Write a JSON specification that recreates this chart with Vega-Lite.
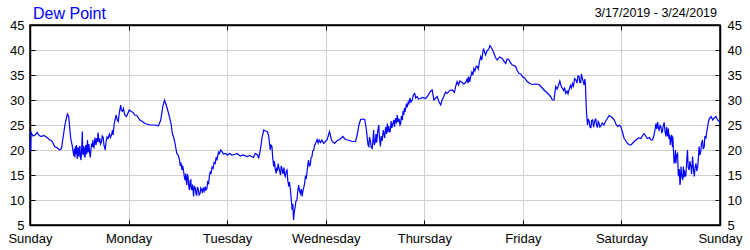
{
  "$schema": "https://vega.github.io/schema/vega-lite/v6.json",
  "width": 690,
  "height": 200,
  "autosize": {"type": "none"},
  "padding": {"left": 30, "top": 25, "right": 30, "bottom": 25},
  "background": "white",
  "title": {"text": "Dew Point", "anchor": "start", "frame": "group", "fontSize": 16, "font": "Liberation Sans", "fontWeight": "normal", "color": "#0000ff", "dx": 3, "offset": -28, "baseline": "alphabetic"},
  "data": {"values": [
    {"time": "2019-03-17T00:00", "dew": 22.0}, {"time": "2019-03-17T00:10", "dew": 19.8}, {"time": "2019-03-17T00:15", "dew": 23.5},
    {"time": "2019-03-17T00:45", "dew": 22.8}, {"time": "2019-03-17T01:15", "dew": 23.0}, {"time": "2019-03-17T01:45", "dew": 23.5},
    {"time": "2019-03-17T02:15", "dew": 22.9}, {"time": "2019-03-17T02:45", "dew": 22.7}, {"time": "2019-03-17T03:20", "dew": 22.9},
    {"time": "2019-03-17T04:00", "dew": 22.6}, {"time": "2019-03-17T04:50", "dew": 22.0}, {"time": "2019-03-17T05:20", "dew": 21.8},
    {"time": "2019-03-17T06:00", "dew": 20.7}, {"time": "2019-03-17T06:40", "dew": 20.4}, {"time": "2019-03-17T07:15", "dew": 20.0},
    {"time": "2019-03-17T07:40", "dew": 20.3}, {"time": "2019-03-17T08:30", "dew": 25.0}, {"time": "2019-03-17T09:05", "dew": 27.2},
    {"time": "2019-03-17T09:25", "dew": 26.7}, {"time": "2019-03-17T09:55", "dew": 22.3}, {"time": "2019-03-17T10:15", "dew": 21.0},
    {"time": "2019-03-17T10:30", "dew": 19.7}, {"time": "2019-03-17T10:40", "dew": 18.8}, {"time": "2019-03-17T10:50", "dew": 20.3},
    {"time": "2019-03-17T10:55", "dew": 18.5}, {"time": "2019-03-17T11:05", "dew": 20.8}, {"time": "2019-03-17T11:15", "dew": 19.2},
    {"time": "2019-03-17T11:20", "dew": 21.0}, {"time": "2019-03-17T11:30", "dew": 18.2}, {"time": "2019-03-17T11:35", "dew": 19.8},
    {"time": "2019-03-17T11:40", "dew": 20.5}, {"time": "2019-03-17T11:50", "dew": 18.7}, {"time": "2019-03-17T11:55", "dew": 19.0},
    {"time": "2019-03-17T12:00", "dew": 20.5}, {"time": "2019-03-17T12:10", "dew": 20.8}, {"time": "2019-03-17T12:15", "dew": 18.6},
    {"time": "2019-03-17T12:25", "dew": 18.0}, {"time": "2019-03-17T12:35", "dew": 20.2}, {"time": "2019-03-17T12:45", "dew": 23.7},
    {"time": "2019-03-17T12:50", "dew": 19.5}, {"time": "2019-03-17T12:55", "dew": 19.0}, {"time": "2019-03-17T13:00", "dew": 20.8},
    {"time": "2019-03-17T13:10", "dew": 20.5}, {"time": "2019-03-17T13:15", "dew": 18.9}, {"time": "2019-03-17T13:25", "dew": 18.5},
    {"time": "2019-03-17T13:30", "dew": 20.6}, {"time": "2019-03-17T13:40", "dew": 21.0}, {"time": "2019-03-17T13:45", "dew": 19.2},
    {"time": "2019-03-17T13:50", "dew": 19.5}, {"time": "2019-03-17T14:00", "dew": 22.0}, {"time": "2019-03-17T14:05", "dew": 20.1},
    {"time": "2019-03-17T14:10", "dew": 19.5}, {"time": "2019-03-17T14:20", "dew": 21.2}, {"time": "2019-03-17T14:25", "dew": 20.5},
    {"time": "2019-03-17T14:35", "dew": 19.0}, {"time": "2019-03-17T14:40", "dew": 18.5}, {"time": "2019-03-17T14:50", "dew": 20.0},
    {"time": "2019-03-17T15:00", "dew": 21.3}, {"time": "2019-03-17T15:10", "dew": 20.6}, {"time": "2019-03-17T15:20", "dew": 22.0},
    {"time": "2019-03-17T15:25", "dew": 20.8}, {"time": "2019-03-17T15:35", "dew": 20.5}, {"time": "2019-03-17T15:45", "dew": 21.8},
    {"time": "2019-03-17T15:50", "dew": 22.5}, {"time": "2019-03-17T16:00", "dew": 21.3}, {"time": "2019-03-17T16:05", "dew": 21.0},
    {"time": "2019-03-17T16:15", "dew": 22.4}, {"time": "2019-03-17T16:25", "dew": 21.6}, {"time": "2019-03-17T16:35", "dew": 23.5},
    {"time": "2019-03-17T16:45", "dew": 22.0}, {"time": "2019-03-17T16:50", "dew": 21.5}, {"time": "2019-03-17T17:00", "dew": 22.3},
    {"time": "2019-03-17T17:10", "dew": 21.2}, {"time": "2019-03-17T17:25", "dew": 21.7}, {"time": "2019-03-17T17:35", "dew": 22.8},
    {"time": "2019-03-17T17:50", "dew": 22.5}, {"time": "2019-03-17T18:00", "dew": 21.0}, {"time": "2019-03-17T18:10", "dew": 20.5},
    {"time": "2019-03-17T18:20", "dew": 20.0}, {"time": "2019-03-17T18:30", "dew": 21.5}, {"time": "2019-03-17T18:45", "dew": 22.6},
    {"time": "2019-03-17T19:00", "dew": 22.3}, {"time": "2019-03-17T19:20", "dew": 23.2}, {"time": "2019-03-17T19:35", "dew": 22.5},
    {"time": "2019-03-17T19:50", "dew": 23.0}, {"time": "2019-03-17T20:05", "dew": 24.0}, {"time": "2019-03-17T20:15", "dew": 23.0},
    {"time": "2019-03-17T20:30", "dew": 25.3}, {"time": "2019-03-17T21:00", "dew": 27.0}, {"time": "2019-03-17T21:15", "dew": 26.0},
    {"time": "2019-03-17T21:30", "dew": 25.7}, {"time": "2019-03-17T21:45", "dew": 27.5}, {"time": "2019-03-17T22:05", "dew": 29.0},
    {"time": "2019-03-17T22:15", "dew": 27.9}, {"time": "2019-03-17T22:30", "dew": 27.7}, {"time": "2019-03-17T22:45", "dew": 28.3},
    {"time": "2019-03-17T23:05", "dew": 27.0}, {"time": "2019-03-17T23:30", "dew": 26.7},
    {"time": "2019-03-18T00:10", "dew": 28.0}, {"time": "2019-03-18T00:40", "dew": 27.7}, {"time": "2019-03-18T01:05", "dew": 27.5},
    {"time": "2019-03-18T01:30", "dew": 27.0}, {"time": "2019-03-18T02:00", "dew": 26.9}, {"time": "2019-03-18T02:45", "dew": 26.0},
    {"time": "2019-03-18T03:20", "dew": 25.7}, {"time": "2019-03-18T04:00", "dew": 25.3}, {"time": "2019-03-18T05:15", "dew": 25.0},
    {"time": "2019-03-18T06:30", "dew": 25.0}, {"time": "2019-03-18T07:15", "dew": 24.8}, {"time": "2019-03-18T07:50", "dew": 26.0},
    {"time": "2019-03-18T08:20", "dew": 28.7}, {"time": "2019-03-18T08:45", "dew": 30.0}, {"time": "2019-03-18T09:10", "dew": 29.0},
    {"time": "2019-03-18T09:45", "dew": 27.3}, {"time": "2019-03-18T10:20", "dew": 25.3}, {"time": "2019-03-18T10:40", "dew": 23.3},
    {"time": "2019-03-18T11:00", "dew": 22.5}, {"time": "2019-03-18T11:20", "dew": 21.3}, {"time": "2019-03-18T11:30", "dew": 20.4},
    {"time": "2019-03-18T11:45", "dew": 19.3}, {"time": "2019-03-18T12:05", "dew": 19.0}, {"time": "2019-03-18T12:25", "dew": 18.0},
    {"time": "2019-03-18T12:35", "dew": 16.8}, {"time": "2019-03-18T12:45", "dew": 17.5}, {"time": "2019-03-18T13:00", "dew": 16.0},
    {"time": "2019-03-18T13:10", "dew": 16.9}, {"time": "2019-03-18T13:25", "dew": 15.7}, {"time": "2019-03-18T13:35", "dew": 14.6},
    {"time": "2019-03-18T13:45", "dew": 14.0}, {"time": "2019-03-18T13:55", "dew": 15.3}, {"time": "2019-03-18T14:05", "dew": 13.4},
    {"time": "2019-03-18T14:10", "dew": 13.0}, {"time": "2019-03-18T14:20", "dew": 15.2}, {"time": "2019-03-18T14:30", "dew": 14.5},
    {"time": "2019-03-18T14:40", "dew": 12.6}, {"time": "2019-03-18T14:50", "dew": 12.0}, {"time": "2019-03-18T15:00", "dew": 13.8},
    {"time": "2019-03-18T15:10", "dew": 14.0}, {"time": "2019-03-18T15:15", "dew": 12.4}, {"time": "2019-03-18T15:25", "dew": 12.0},
    {"time": "2019-03-18T15:35", "dew": 13.1}, {"time": "2019-03-18T15:50", "dew": 10.7}, {"time": "2019-03-18T16:00", "dew": 12.8},
    {"time": "2019-03-18T16:15", "dew": 12.3}, {"time": "2019-03-18T16:25", "dew": 11.2}, {"time": "2019-03-18T16:35", "dew": 11.0},
    {"time": "2019-03-18T16:45", "dew": 12.6}, {"time": "2019-03-18T17:00", "dew": 12.0}, {"time": "2019-03-18T17:10", "dew": 11.0},
    {"time": "2019-03-18T17:25", "dew": 11.3}, {"time": "2019-03-18T17:35", "dew": 12.4}, {"time": "2019-03-18T17:50", "dew": 12.0},
    {"time": "2019-03-18T18:00", "dew": 11.4}, {"time": "2019-03-18T18:10", "dew": 12.5}, {"time": "2019-03-18T18:25", "dew": 11.8},
    {"time": "2019-03-18T18:40", "dew": 12.7}, {"time": "2019-03-18T18:50", "dew": 12.0}, {"time": "2019-03-18T19:05", "dew": 12.3},
    {"time": "2019-03-18T19:15", "dew": 13.6}, {"time": "2019-03-18T19:30", "dew": 13.3}, {"time": "2019-03-18T19:40", "dew": 14.8},
    {"time": "2019-03-18T19:55", "dew": 15.7}, {"time": "2019-03-18T20:05", "dew": 15.2}, {"time": "2019-03-18T20:20", "dew": 16.6},
    {"time": "2019-03-18T20:35", "dew": 16.3}, {"time": "2019-03-18T20:50", "dew": 17.5}, {"time": "2019-03-18T21:05", "dew": 17.3},
    {"time": "2019-03-18T21:20", "dew": 18.6}, {"time": "2019-03-18T21:30", "dew": 17.9}, {"time": "2019-03-18T21:40", "dew": 18.7},
    {"time": "2019-03-18T21:55", "dew": 19.6}, {"time": "2019-03-18T22:10", "dew": 19.3}, {"time": "2019-03-18T22:25", "dew": 20.0},
    {"time": "2019-03-18T22:45", "dew": 19.7}, {"time": "2019-03-18T23:05", "dew": 19.2}, {"time": "2019-03-18T23:35", "dew": 19.3},
    {"time": "2019-03-19T00:05", "dew": 19.0}, {"time": "2019-03-19T00:40", "dew": 19.3}, {"time": "2019-03-19T01:10", "dew": 19.0},
    {"time": "2019-03-19T01:50", "dew": 19.1}, {"time": "2019-03-19T02:25", "dew": 19.3}, {"time": "2019-03-19T03:10", "dew": 18.8},
    {"time": "2019-03-19T03:50", "dew": 19.0}, {"time": "2019-03-19T04:50", "dew": 18.7}, {"time": "2019-03-19T05:30", "dew": 18.9},
    {"time": "2019-03-19T06:25", "dew": 18.5}, {"time": "2019-03-19T06:50", "dew": 19.3}, {"time": "2019-03-19T07:25", "dew": 19.0},
    {"time": "2019-03-19T07:40", "dew": 18.3}, {"time": "2019-03-19T08:05", "dew": 20.0}, {"time": "2019-03-19T08:30", "dew": 22.5},
    {"time": "2019-03-19T08:55", "dew": 24.0}, {"time": "2019-03-19T09:20", "dew": 23.8}, {"time": "2019-03-19T09:45", "dew": 23.7},
    {"time": "2019-03-19T10:05", "dew": 23.0}, {"time": "2019-03-19T10:20", "dew": 21.2}, {"time": "2019-03-19T10:30", "dew": 20.0},
    {"time": "2019-03-19T10:40", "dew": 21.0}, {"time": "2019-03-19T10:55", "dew": 20.7}, {"time": "2019-03-19T11:05", "dew": 18.5},
    {"time": "2019-03-19T11:20", "dew": 16.7}, {"time": "2019-03-19T11:30", "dew": 17.8}, {"time": "2019-03-19T11:45", "dew": 16.0},
    {"time": "2019-03-19T11:55", "dew": 15.3}, {"time": "2019-03-19T12:05", "dew": 16.5}, {"time": "2019-03-19T12:15", "dew": 15.8},
    {"time": "2019-03-19T12:25", "dew": 17.3}, {"time": "2019-03-19T12:40", "dew": 16.2}, {"time": "2019-03-19T13:00", "dew": 15.0},
    {"time": "2019-03-19T13:10", "dew": 16.8}, {"time": "2019-03-19T13:20", "dew": 16.3}, {"time": "2019-03-19T13:35", "dew": 15.2},
    {"time": "2019-03-19T13:50", "dew": 16.5}, {"time": "2019-03-19T14:00", "dew": 15.0}, {"time": "2019-03-19T14:10", "dew": 14.7},
    {"time": "2019-03-19T14:25", "dew": 15.8}, {"time": "2019-03-19T14:35", "dew": 16.0}, {"time": "2019-03-19T14:45", "dew": 14.0},
    {"time": "2019-03-19T15:00", "dew": 12.7}, {"time": "2019-03-19T15:10", "dew": 13.6}, {"time": "2019-03-19T15:25", "dew": 12.0},
    {"time": "2019-03-19T15:35", "dew": 10.3}, {"time": "2019-03-19T15:50", "dew": 8.0}, {"time": "2019-03-19T16:00", "dew": 9.2},
    {"time": "2019-03-19T16:10", "dew": 6.0}, {"time": "2019-03-19T16:20", "dew": 7.5}, {"time": "2019-03-19T16:35", "dew": 8.7},
    {"time": "2019-03-19T16:45", "dew": 9.8}, {"time": "2019-03-19T17:00", "dew": 10.0}, {"time": "2019-03-19T17:10", "dew": 11.6},
    {"time": "2019-03-19T17:25", "dew": 13.0}, {"time": "2019-03-19T17:35", "dew": 12.0}, {"time": "2019-03-19T17:50", "dew": 11.3},
    {"time": "2019-03-19T18:05", "dew": 12.2}, {"time": "2019-03-19T18:15", "dew": 10.7}, {"time": "2019-03-19T18:30", "dew": 12.0},
    {"time": "2019-03-19T18:45", "dew": 12.8}, {"time": "2019-03-19T18:55", "dew": 13.7}, {"time": "2019-03-19T19:05", "dew": 14.9},
    {"time": "2019-03-19T19:15", "dew": 14.2}, {"time": "2019-03-19T19:30", "dew": 16.0}, {"time": "2019-03-19T19:40", "dew": 17.2},
    {"time": "2019-03-19T19:50", "dew": 18.0}, {"time": "2019-03-19T20:00", "dew": 16.8}, {"time": "2019-03-19T20:15", "dew": 17.0},
    {"time": "2019-03-19T20:25", "dew": 18.4}, {"time": "2019-03-19T20:40", "dew": 18.7}, {"time": "2019-03-19T20:50", "dew": 19.8},
    {"time": "2019-03-19T21:05", "dew": 20.0}, {"time": "2019-03-19T21:15", "dew": 20.8}, {"time": "2019-03-19T21:30", "dew": 21.3},
    {"time": "2019-03-19T21:55", "dew": 22.1}, {"time": "2019-03-19T22:10", "dew": 21.4}, {"time": "2019-03-19T22:25", "dew": 22.0},
    {"time": "2019-03-19T22:45", "dew": 21.5}, {"time": "2019-03-19T23:05", "dew": 22.0}, {"time": "2019-03-19T23:30", "dew": 21.3},
    {"time": "2019-03-20T00:00", "dew": 21.8}, {"time": "2019-03-20T00:20", "dew": 22.0}, {"time": "2019-03-20T00:55", "dew": 23.7},
    {"time": "2019-03-20T01:25", "dew": 22.0}, {"time": "2019-03-20T01:45", "dew": 21.6}, {"time": "2019-03-20T02:10", "dew": 21.3},
    {"time": "2019-03-20T02:40", "dew": 21.8}, {"time": "2019-03-20T03:10", "dew": 22.0}, {"time": "2019-03-20T03:40", "dew": 22.3},
    {"time": "2019-03-20T04:10", "dew": 22.7}, {"time": "2019-03-20T04:40", "dew": 22.2}, {"time": "2019-03-20T05:15", "dew": 22.0},
    {"time": "2019-03-20T05:50", "dew": 21.9}, {"time": "2019-03-20T06:25", "dew": 21.7}, {"time": "2019-03-20T07:15", "dew": 21.7},
    {"time": "2019-03-20T07:40", "dew": 23.0}, {"time": "2019-03-20T08:05", "dew": 25.0}, {"time": "2019-03-20T08:30", "dew": 26.1},
    {"time": "2019-03-20T09:00", "dew": 26.2}, {"time": "2019-03-20T09:30", "dew": 26.1}, {"time": "2019-03-20T09:55", "dew": 24.0},
    {"time": "2019-03-20T10:10", "dew": 22.0}, {"time": "2019-03-20T10:20", "dew": 20.9}, {"time": "2019-03-20T10:30", "dew": 20.7},
    {"time": "2019-03-20T10:40", "dew": 22.6}, {"time": "2019-03-20T10:55", "dew": 21.7}, {"time": "2019-03-20T11:05", "dew": 20.5},
    {"time": "2019-03-20T11:20", "dew": 20.3}, {"time": "2019-03-20T11:30", "dew": 22.0}, {"time": "2019-03-20T11:40", "dew": 24.0},
    {"time": "2019-03-20T11:50", "dew": 21.0}, {"time": "2019-03-20T12:05", "dew": 21.7}, {"time": "2019-03-20T12:15", "dew": 23.2},
    {"time": "2019-03-20T12:25", "dew": 21.5}, {"time": "2019-03-20T12:40", "dew": 23.8}, {"time": "2019-03-20T12:55", "dew": 25.0},
    {"time": "2019-03-20T13:05", "dew": 22.5}, {"time": "2019-03-20T13:20", "dew": 20.7}, {"time": "2019-03-20T13:30", "dew": 22.8},
    {"time": "2019-03-20T13:45", "dew": 21.8}, {"time": "2019-03-20T14:00", "dew": 24.0}, {"time": "2019-03-20T14:10", "dew": 23.3},
    {"time": "2019-03-20T14:20", "dew": 22.4}, {"time": "2019-03-20T14:35", "dew": 24.6}, {"time": "2019-03-20T14:50", "dew": 23.2},
    {"time": "2019-03-20T15:00", "dew": 25.3}, {"time": "2019-03-20T15:10", "dew": 23.6}, {"time": "2019-03-20T15:20", "dew": 24.8},
    {"time": "2019-03-20T15:35", "dew": 23.5}, {"time": "2019-03-20T15:45", "dew": 24.0}, {"time": "2019-03-20T15:55", "dew": 25.8},
    {"time": "2019-03-20T16:05", "dew": 24.4}, {"time": "2019-03-20T16:20", "dew": 25.2}, {"time": "2019-03-20T16:35", "dew": 26.0},
    {"time": "2019-03-20T16:45", "dew": 24.6}, {"time": "2019-03-20T17:00", "dew": 26.4}, {"time": "2019-03-20T17:15", "dew": 25.3},
    {"time": "2019-03-20T17:25", "dew": 27.0}, {"time": "2019-03-20T17:35", "dew": 25.6}, {"time": "2019-03-20T17:50", "dew": 26.3},
    {"time": "2019-03-20T18:05", "dew": 25.0}, {"time": "2019-03-20T18:15", "dew": 25.3}, {"time": "2019-03-20T18:25", "dew": 26.8},
    {"time": "2019-03-20T18:40", "dew": 26.0}, {"time": "2019-03-20T18:50", "dew": 27.8}, {"time": "2019-03-20T19:00", "dew": 27.0},
    {"time": "2019-03-20T19:10", "dew": 28.4}, {"time": "2019-03-20T19:20", "dew": 27.6}, {"time": "2019-03-20T19:40", "dew": 29.3},
    {"time": "2019-03-20T19:50", "dew": 28.5}, {"time": "2019-03-20T20:05", "dew": 29.6}, {"time": "2019-03-20T20:15", "dew": 29.3},
    {"time": "2019-03-20T20:30", "dew": 30.4}, {"time": "2019-03-20T20:45", "dew": 29.6}, {"time": "2019-03-20T21:05", "dew": 30.0},
    {"time": "2019-03-20T21:20", "dew": 31.0}, {"time": "2019-03-20T21:40", "dew": 31.3}, {"time": "2019-03-20T21:55", "dew": 30.4},
    {"time": "2019-03-20T22:15", "dew": 30.7}, {"time": "2019-03-20T22:35", "dew": 30.2}, {"time": "2019-03-20T23:05", "dew": 30.3},
    {"time": "2019-03-20T23:30", "dew": 30.5},
    {"time": "2019-03-21T00:20", "dew": 30.3}, {"time": "2019-03-21T00:50", "dew": 30.8}, {"time": "2019-03-21T01:30", "dew": 31.7},
    {"time": "2019-03-21T01:55", "dew": 32.0}, {"time": "2019-03-21T02:20", "dew": 30.0}, {"time": "2019-03-21T02:45", "dew": 30.4},
    {"time": "2019-03-21T03:10", "dew": 30.7}, {"time": "2019-03-21T03:35", "dew": 29.6}, {"time": "2019-03-21T04:00", "dew": 29.0},
    {"time": "2019-03-21T04:20", "dew": 30.0}, {"time": "2019-03-21T04:45", "dew": 30.7}, {"time": "2019-03-21T05:10", "dew": 31.6},
    {"time": "2019-03-21T05:35", "dew": 31.3}, {"time": "2019-03-21T06:10", "dew": 31.9}, {"time": "2019-03-21T06:50", "dew": 32.0},
    {"time": "2019-03-21T07:20", "dew": 31.5}, {"time": "2019-03-21T07:40", "dew": 32.8}, {"time": "2019-03-21T08:00", "dew": 33.7},
    {"time": "2019-03-21T08:20", "dew": 33.0}, {"time": "2019-03-21T08:40", "dew": 33.8}, {"time": "2019-03-21T09:15", "dew": 33.5},
    {"time": "2019-03-21T09:35", "dew": 33.2}, {"time": "2019-03-21T10:05", "dew": 33.5}, {"time": "2019-03-21T10:25", "dew": 34.2},
    {"time": "2019-03-21T10:40", "dew": 33.4}, {"time": "2019-03-21T10:50", "dew": 34.7}, {"time": "2019-03-21T11:05", "dew": 33.6},
    {"time": "2019-03-21T11:15", "dew": 34.5}, {"time": "2019-03-21T11:35", "dew": 35.6}, {"time": "2019-03-21T11:50", "dew": 35.0},
    {"time": "2019-03-21T12:05", "dew": 36.3}, {"time": "2019-03-21T12:20", "dew": 35.8}, {"time": "2019-03-21T12:40", "dew": 36.8},
    {"time": "2019-03-21T12:55", "dew": 36.7}, {"time": "2019-03-21T13:10", "dew": 36.2}, {"time": "2019-03-21T13:25", "dew": 37.6},
    {"time": "2019-03-21T13:45", "dew": 38.7}, {"time": "2019-03-21T14:00", "dew": 38.0}, {"time": "2019-03-21T14:15", "dew": 39.5},
    {"time": "2019-03-21T14:25", "dew": 40.3}, {"time": "2019-03-21T14:40", "dew": 39.6}, {"time": "2019-03-21T14:55", "dew": 39.0},
    {"time": "2019-03-21T15:15", "dew": 39.8}, {"time": "2019-03-21T15:30", "dew": 40.0}, {"time": "2019-03-21T15:45", "dew": 40.3},
    {"time": "2019-03-21T16:00", "dew": 40.9}, {"time": "2019-03-21T16:10", "dew": 40.7}, {"time": "2019-03-21T16:30", "dew": 40.2},
    {"time": "2019-03-21T17:00", "dew": 39.3}, {"time": "2019-03-21T17:20", "dew": 38.5}, {"time": "2019-03-21T17:45", "dew": 38.0},
    {"time": "2019-03-21T18:20", "dew": 38.6}, {"time": "2019-03-21T19:00", "dew": 38.3}, {"time": "2019-03-21T19:20", "dew": 37.8},
    {"time": "2019-03-21T19:50", "dew": 37.3}, {"time": "2019-03-21T20:10", "dew": 38.2}, {"time": "2019-03-21T20:35", "dew": 38.1},
    {"time": "2019-03-21T21:00", "dew": 37.4}, {"time": "2019-03-21T21:25", "dew": 37.0}, {"time": "2019-03-21T21:50", "dew": 36.9},
    {"time": "2019-03-21T22:15", "dew": 36.7}, {"time": "2019-03-21T22:40", "dew": 35.8}, {"time": "2019-03-21T23:05", "dew": 35.3},
    {"time": "2019-03-21T23:30", "dew": 35.2}, {"time": "2019-03-21T23:55", "dew": 34.7},
    {"time": "2019-03-22T00:30", "dew": 34.3}, {"time": "2019-03-22T01:05", "dew": 33.7}, {"time": "2019-03-22T01:40", "dew": 33.3},
    {"time": "2019-03-22T02:20", "dew": 33.1}, {"time": "2019-03-22T03:10", "dew": 33.2}, {"time": "2019-03-22T03:55", "dew": 33.1},
    {"time": "2019-03-22T04:30", "dew": 32.6}, {"time": "2019-03-22T05:10", "dew": 32.0}, {"time": "2019-03-22T05:50", "dew": 31.5},
    {"time": "2019-03-22T06:25", "dew": 31.0}, {"time": "2019-03-22T06:50", "dew": 30.6}, {"time": "2019-03-22T07:10", "dew": 30.0},
    {"time": "2019-03-22T07:35", "dew": 30.0}, {"time": "2019-03-22T08:00", "dew": 32.7}, {"time": "2019-03-22T08:20", "dew": 32.2},
    {"time": "2019-03-22T08:40", "dew": 32.9}, {"time": "2019-03-22T09:00", "dew": 33.8}, {"time": "2019-03-22T09:15", "dew": 33.0},
    {"time": "2019-03-22T09:35", "dew": 32.4}, {"time": "2019-03-22T09:55", "dew": 31.9}, {"time": "2019-03-22T10:10", "dew": 32.5},
    {"time": "2019-03-22T10:25", "dew": 31.3}, {"time": "2019-03-22T10:45", "dew": 31.8}, {"time": "2019-03-22T11:00", "dew": 31.2},
    {"time": "2019-03-22T11:15", "dew": 32.0}, {"time": "2019-03-22T11:35", "dew": 32.9}, {"time": "2019-03-22T11:50", "dew": 32.4},
    {"time": "2019-03-22T12:05", "dew": 33.3}, {"time": "2019-03-22T12:20", "dew": 32.8}, {"time": "2019-03-22T12:35", "dew": 34.3},
    {"time": "2019-03-22T12:55", "dew": 34.0}, {"time": "2019-03-22T13:10", "dew": 33.4}, {"time": "2019-03-22T13:25", "dew": 34.8},
    {"time": "2019-03-22T13:40", "dew": 34.7}, {"time": "2019-03-22T13:50", "dew": 33.6}, {"time": "2019-03-22T14:05", "dew": 33.5},
    {"time": "2019-03-22T14:15", "dew": 35.2}, {"time": "2019-03-22T14:30", "dew": 34.3}, {"time": "2019-03-22T14:40", "dew": 33.8},
    {"time": "2019-03-22T14:55", "dew": 33.0}, {"time": "2019-03-22T15:05", "dew": 34.2}, {"time": "2019-03-22T15:15", "dew": 33.0},
    {"time": "2019-03-22T15:20", "dew": 30.7}, {"time": "2019-03-22T15:30", "dew": 27.5}, {"time": "2019-03-22T15:45", "dew": 25.0},
    {"time": "2019-03-22T15:55", "dew": 26.2}, {"time": "2019-03-22T16:10", "dew": 25.7}, {"time": "2019-03-22T16:20", "dew": 24.6},
    {"time": "2019-03-22T16:35", "dew": 24.5}, {"time": "2019-03-22T16:45", "dew": 25.9}, {"time": "2019-03-22T17:00", "dew": 26.0},
    {"time": "2019-03-22T17:10", "dew": 24.8}, {"time": "2019-03-22T17:15", "dew": 24.7}, {"time": "2019-03-22T17:30", "dew": 25.8},
    {"time": "2019-03-22T17:45", "dew": 26.3}, {"time": "2019-03-22T17:55", "dew": 25.0}, {"time": "2019-03-22T18:10", "dew": 24.5},
    {"time": "2019-03-22T18:20", "dew": 25.7}, {"time": "2019-03-22T18:30", "dew": 25.5}, {"time": "2019-03-22T18:45", "dew": 24.6},
    {"time": "2019-03-22T19:00", "dew": 24.8}, {"time": "2019-03-22T19:20", "dew": 25.4}, {"time": "2019-03-22T19:45", "dew": 25.0},
    {"time": "2019-03-22T20:10", "dew": 25.8}, {"time": "2019-03-22T20:35", "dew": 26.3}, {"time": "2019-03-22T21:00", "dew": 26.9},
    {"time": "2019-03-22T21:25", "dew": 26.7}, {"time": "2019-03-22T21:50", "dew": 26.4}, {"time": "2019-03-22T22:15", "dew": 26.0},
    {"time": "2019-03-22T22:40", "dew": 25.2}, {"time": "2019-03-22T23:05", "dew": 24.7}, {"time": "2019-03-22T23:30", "dew": 25.0},
    {"time": "2019-03-22T23:50", "dew": 24.7},
    {"time": "2019-03-23T00:15", "dew": 23.6}, {"time": "2019-03-23T00:40", "dew": 22.3}, {"time": "2019-03-23T01:05", "dew": 21.8},
    {"time": "2019-03-23T01:30", "dew": 21.3}, {"time": "2019-03-23T02:00", "dew": 21.0}, {"time": "2019-03-23T02:20", "dew": 21.0},
    {"time": "2019-03-23T03:00", "dew": 21.6}, {"time": "2019-03-23T03:30", "dew": 22.0}, {"time": "2019-03-23T04:10", "dew": 22.4},
    {"time": "2019-03-23T04:45", "dew": 22.3}, {"time": "2019-03-23T05:10", "dew": 22.9}, {"time": "2019-03-23T05:30", "dew": 23.3},
    {"time": "2019-03-23T05:55", "dew": 22.8}, {"time": "2019-03-23T06:20", "dew": 22.3}, {"time": "2019-03-23T06:50", "dew": 22.5},
    {"time": "2019-03-23T07:10", "dew": 22.0}, {"time": "2019-03-23T07:35", "dew": 22.0}, {"time": "2019-03-23T08:00", "dew": 23.2},
    {"time": "2019-03-23T08:25", "dew": 25.3}, {"time": "2019-03-23T08:35", "dew": 24.2}, {"time": "2019-03-23T08:50", "dew": 25.6},
    {"time": "2019-03-23T09:00", "dew": 24.4}, {"time": "2019-03-23T09:10", "dew": 24.0}, {"time": "2019-03-23T09:25", "dew": 24.9},
    {"time": "2019-03-23T09:35", "dew": 24.7}, {"time": "2019-03-23T09:50", "dew": 23.5}, {"time": "2019-03-23T10:00", "dew": 23.7},
    {"time": "2019-03-23T10:10", "dew": 24.8}, {"time": "2019-03-23T10:25", "dew": 25.5}, {"time": "2019-03-23T10:35", "dew": 23.9},
    {"time": "2019-03-23T10:50", "dew": 22.7}, {"time": "2019-03-23T11:00", "dew": 24.6}, {"time": "2019-03-23T11:15", "dew": 22.7},
    {"time": "2019-03-23T11:25", "dew": 24.3}, {"time": "2019-03-23T11:35", "dew": 22.2}, {"time": "2019-03-23T11:45", "dew": 23.1},
    {"time": "2019-03-23T11:55", "dew": 21.0}, {"time": "2019-03-23T12:05", "dew": 22.4}, {"time": "2019-03-23T12:15", "dew": 23.0},
    {"time": "2019-03-23T12:25", "dew": 20.6}, {"time": "2019-03-23T12:30", "dew": 22.7}, {"time": "2019-03-23T12:40", "dew": 20.0},
    {"time": "2019-03-23T12:50", "dew": 17.3}, {"time": "2019-03-23T13:00", "dew": 18.0}, {"time": "2019-03-23T13:10", "dew": 20.0},
    {"time": "2019-03-23T13:15", "dew": 17.3}, {"time": "2019-03-23T13:25", "dew": 18.9}, {"time": "2019-03-23T13:40", "dew": 19.3},
    {"time": "2019-03-23T13:50", "dew": 15.3}, {"time": "2019-03-23T13:55", "dew": 14.7}, {"time": "2019-03-23T14:05", "dew": 16.2},
    {"time": "2019-03-23T14:15", "dew": 13.0}, {"time": "2019-03-23T14:20", "dew": 13.4}, {"time": "2019-03-23T14:30", "dew": 16.7},
    {"time": "2019-03-23T14:40", "dew": 15.0}, {"time": "2019-03-23T14:55", "dew": 14.0}, {"time": "2019-03-23T15:05", "dew": 16.7},
    {"time": "2019-03-23T15:15", "dew": 14.5}, {"time": "2019-03-23T15:20", "dew": 16.0}, {"time": "2019-03-23T15:30", "dew": 15.1},
    {"time": "2019-03-23T15:40", "dew": 14.7}, {"time": "2019-03-23T15:50", "dew": 17.0}, {"time": "2019-03-23T16:05", "dew": 20.0},
    {"time": "2019-03-23T16:15", "dew": 16.6}, {"time": "2019-03-23T16:30", "dew": 16.0}, {"time": "2019-03-23T16:40", "dew": 17.8},
    {"time": "2019-03-23T16:55", "dew": 16.7}, {"time": "2019-03-23T17:05", "dew": 15.2}, {"time": "2019-03-23T17:20", "dew": 18.7},
    {"time": "2019-03-23T17:30", "dew": 16.4}, {"time": "2019-03-23T17:45", "dew": 14.7}, {"time": "2019-03-23T17:55", "dew": 16.5},
    {"time": "2019-03-23T18:10", "dew": 17.3}, {"time": "2019-03-23T18:20", "dew": 15.8}, {"time": "2019-03-23T18:35", "dew": 16.7},
    {"time": "2019-03-23T18:45", "dew": 18.5}, {"time": "2019-03-23T18:55", "dew": 20.7}, {"time": "2019-03-23T19:05", "dew": 19.0},
    {"time": "2019-03-23T19:20", "dew": 19.7}, {"time": "2019-03-23T19:30", "dew": 21.4}, {"time": "2019-03-23T19:45", "dew": 22.0},
    {"time": "2019-03-23T19:55", "dew": 20.2}, {"time": "2019-03-23T20:10", "dew": 20.7}, {"time": "2019-03-23T20:20", "dew": 22.8},
    {"time": "2019-03-23T20:35", "dew": 22.3}, {"time": "2019-03-23T20:45", "dew": 23.5}, {"time": "2019-03-23T21:00", "dew": 24.7},
    {"time": "2019-03-23T21:10", "dew": 25.6}, {"time": "2019-03-23T21:25", "dew": 26.3}, {"time": "2019-03-23T21:50", "dew": 26.7},
    {"time": "2019-03-23T22:15", "dew": 26.0}, {"time": "2019-03-23T22:35", "dew": 26.4}, {"time": "2019-03-23T23:00", "dew": 26.7},
    {"time": "2019-03-23T23:25", "dew": 26.0}, {"time": "2019-03-23T23:50", "dew": 25.7}, {"time": "2019-03-24T00:00", "dew": 25.3}
  ]},
  "config": {
    "view": {"stroke": "black", "strokeWidth": 1.5},
    "axis": {
      "domainColor": "black",
      "domainWidth": 1.5,
      "tickColor": "black",
      "tickSize": -5,
      "labelFont": "Liberation Sans",
      "labelFontSize": 13,
      "labelColor": "black",
      "gridColor": "#d0d0d0",
      "title": null
    }
  },
  "layer": [
    {
      "mark": {"type": "line", "color": "#0000ff", "strokeWidth": 1.2},
      "encoding": {
        "x": {
          "field": "time", "type": "temporal",
          "scale": {"domain": [{"year": 2019, "month": 3, "date": 17}, {"year": 2019, "month": 3, "date": 24}]},
          "axis": {
            "orient": "bottom", "format": "%A", "grid": true, "labelPadding": 12, "labelFlush": false,
            "values": [
              {"year": 2019, "month": 3, "date": 17}, {"year": 2019, "month": 3, "date": 18},
              {"year": 2019, "month": 3, "date": 19}, {"year": 2019, "month": 3, "date": 20},
              {"year": 2019, "month": 3, "date": 21}, {"year": 2019, "month": 3, "date": 22},
              {"year": 2019, "month": 3, "date": 23}, {"year": 2019, "month": 3, "date": 24}
            ]
          }
        },
        "y": {
          "field": "dew", "type": "quantitative",
          "scale": {"domain": [5, 45], "nice": false, "zero": false},
          "axis": {"orient": "left", "values": [5, 10, 15, 20, 25, 30, 35, 40, 45], "grid": true, "labelPadding": 11, "labelFlush": false}
        }
      }
    },
    {
      "mark": {"type": "line", "strokeOpacity": 0},
      "encoding": {
        "x": {
          "field": "time", "type": "temporal",
          "scale": {"domain": [{"year": 2019, "month": 3, "date": 17}, {"year": 2019, "month": 3, "date": 24}]},
          "axis": {
            "orient": "top", "labels": false, "grid": false,
            "values": [
              {"year": 2019, "month": 3, "date": 17}, {"year": 2019, "month": 3, "date": 18},
              {"year": 2019, "month": 3, "date": 19}, {"year": 2019, "month": 3, "date": 20},
              {"year": 2019, "month": 3, "date": 21}, {"year": 2019, "month": 3, "date": 22},
              {"year": 2019, "month": 3, "date": 23}, {"year": 2019, "month": 3, "date": 24}
            ]
          }
        },
        "y": {
          "field": "dew", "type": "quantitative",
          "scale": {"domain": [5, 45], "nice": false, "zero": false},
          "axis": {"orient": "right", "values": [5, 10, 15, 20, 25, 30, 35, 40, 45], "grid": false, "labelPadding": 12, "labelFlush": false}
        }
      }
    },
    {
      "data": {"values": [{"label": "3/17/2019 - 3/24/2019"}]},
      "mark": {"type": "text", "align": "right", "baseline": "alphabetic", "dx": -3, "dy": -8, "fontSize": 12.5, "font": "Liberation Sans", "color": "black"},
      "encoding": {
        "x": {"datum": {"year": 2019, "month": 3, "date": 24}, "type": "temporal", "axis": null},
        "y": {"datum": 45, "type": "quantitative", "axis": null},
        "text": {"field": "label"}
      }
    }
  ],
  "resolve": {"axis": {"x": "independent", "y": "independent"}}
}
